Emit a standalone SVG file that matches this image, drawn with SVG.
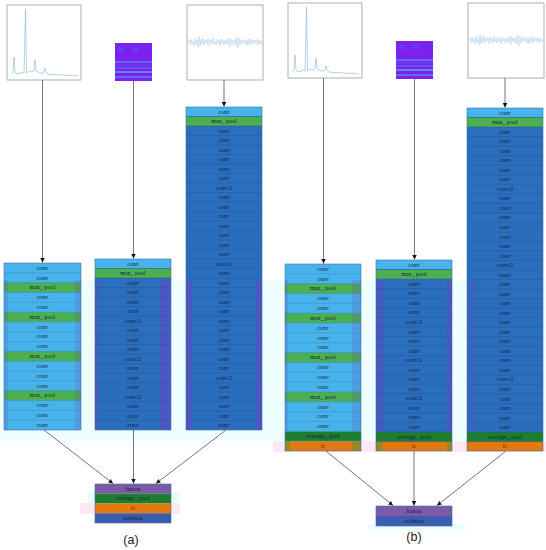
<svg xmlns="http://www.w3.org/2000/svg" xmlns:xlink="http://www.w3.org/1999/xlink" width="546" height="550" viewBox="0 0 546 550">
<style>
.lb{fill:#48b3ea}
.db{fill:#2b6ebe}
.mp{fill:#4caf50}
.ap{fill:#1e7e30}
.fc{fill:#e37a10}
.sm{fill:#3d5bab}
.fu{fill:#7c5aa6}
.sep{stroke:#22599a;stroke-width:0.5;fill:none}
.sepl{stroke:#348fc8;stroke-width:0.5;fill:none}
.bd{fill:none;stroke:#3f74ad;stroke-width:0.6}
.t{font-family:"Liberation Serif","Times New Roman",serif;font-size:6px;fill:#14233c;text-anchor:middle}
.tr{fill:#7a1800}
.st{fill:#7040c0;opacity:.45}
.st2{fill:#7040c0;opacity:.2}
.ol{fill:#3a9a40;opacity:.45}
.img{fill:#fff;stroke:#9a9a9a;stroke-width:0.8}
.sig{fill:none;stroke:#82b4d8;stroke-width:0.6}
.wav{fill:none;stroke:#a8c9e4;stroke-width:0.5}
.cn{fill:none;stroke:#505050;stroke-width:0.8;marker-end:url(#ah)}
.lab{font-family:"Liberation Sans",Arial,sans-serif;font-size:12.5px;fill:#222;text-anchor:middle}
</style>
<defs>
<marker id="ah" viewBox="0 0 8 8" refX="8" refY="4" markerWidth="4.5" markerHeight="4.5" markerUnits="userSpaceOnUse" orient="auto">
<path d="M0,0 L8,4 L0,8 z" fill="#111"/>
</marker>
</defs>

<!-- faint background bands -->
<rect x="0" y="280" width="546" height="161" fill="#effefe"/>
<rect x="273" y="441" width="273" height="11" fill="#fde9f3"/>
<rect x="88" y="492" width="92" height="11" fill="#eafcfc"/>
<rect x="80" y="503" width="100" height="11" fill="#fde9f3"/>
<rect x="368" y="524" width="97" height="6" fill="#eafcfc"/>

<!-- ===== Panel (a) input images ===== -->
<g id="a-img-spectrum">
<rect class="img" x="7" y="5" width="74" height="75"/>
<path class="sig" d="M12,74 L13,72 14,57 15,72 17,74 20,73 22,72 24,73 25.5,9 26.5,73 28,72 30,71 32,72 34,70 35,60 36,71 38,72 40,73 42,73 44,72 45,68 46,72 48,74 52,74.5 60,74.8 70,75.5 78,76"/>
</g>
<g id="a-img-spectrogram">
<rect x="115" y="43" width="37" height="38" fill="#7b22ee"/>
<ellipse cx="121" cy="49" rx="3" ry="2.5" fill="#5e55f3" opacity=".6"/>
<ellipse cx="135" cy="49" rx="3" ry="2.5" fill="#5e55f3" opacity=".6"/>
<path d="M115,62H152" stroke="#3ec8f2" stroke-width="0.9"/>
<path d="M115,65H152" stroke="#5a6af0" stroke-width="0.6"/>
<path d="M115,68H152" stroke="#34a8f6" stroke-width="0.7"/>
<path d="M115,72H152" stroke="#52e2ee" stroke-width="1.1"/>
<path d="M115,77H152" stroke="#3cb6f6" stroke-width="1"/>
</g>
<g id="a-img-wave">
<rect class="img" x="187" y="5" width="76" height="75"/>
<path class="wav" d="M188,42 L189,40 190,45 191,39 192,44 193,41 194,46 195,38 196,45 197,40 198,47 199,36 200,46 201,39 202,44 203,38 204,45 205,40 206,43 207,39 208,46 209,39 210,44 211,40 212,45 213,38 214,44 215,41 216,45 217,39 218,44 219,40 220,46 221,39 222,43 223,40 224,45 225,40 226,44 227,39 228,45 229,38 230,47 231,39 232,44 233,40 234,45 235,39 236,46 237,37 238,48 239,38 240,45 241,40 242,44 243,39 244,43 245,40 246,45 247,40 248,46 249,39 250,44 251,39 252,45 253,40 254,43 255,40 256,44 257,39 258,45 259,40 260,44 261,41 262,44"/>
</g>

<!-- ===== Panel (b) input images ===== -->
<g id="b-img-spectrum">
<rect class="img" x="288" y="3" width="74" height="75"/>
<path class="sig" transform="translate(281,-2)" d="M12,74 L13,72 14,57 15,72 17,74 20,73 22,72 24,73 25.5,9 26.5,73 28,72 30,71 32,72 34,70 35,60 36,71 38,72 40,73 42,73 44,72 45,68 46,72 48,74 52,74.5 60,74.8 70,75.5 78,76"/>
</g>
<g id="b-img-spectrogram" transform="translate(281,-2)">
<rect x="115" y="43" width="37" height="38" fill="#7b22ee"/>
<ellipse cx="121" cy="49" rx="3" ry="2.5" fill="#5e55f3" opacity=".6"/>
<ellipse cx="135" cy="49" rx="3" ry="2.5" fill="#5e55f3" opacity=".6"/>
<path d="M115,62H152" stroke="#3ec8f2" stroke-width="0.9"/>
<path d="M115,65H152" stroke="#5a6af0" stroke-width="0.6"/>
<path d="M115,68H152" stroke="#34a8f6" stroke-width="0.7"/>
<path d="M115,72H152" stroke="#52e2ee" stroke-width="1.1"/>
<path d="M115,77H152" stroke="#3cb6f6" stroke-width="1"/>
</g>
<g id="b-img-wave">
<rect class="img" x="468" y="3" width="76" height="75"/>
<path class="wav" transform="translate(281,-2)" d="M188,42 L189,40 190,45 191,39 192,44 193,41 194,46 195,38 196,45 197,40 198,47 199,36 200,46 201,39 202,44 203,38 204,45 205,40 206,43 207,39 208,46 209,39 210,44 211,40 212,45 213,38 214,44 215,41 216,45 217,39 218,44 219,40 220,46 221,39 222,43 223,40 224,45 225,40 226,44 227,39 228,45 229,38 230,47 231,39 232,44 233,40 234,45 235,39 236,46 237,37 238,48 239,38 240,45 241,40 242,44 243,39 244,43 245,40 246,45 247,40 248,46 249,39 250,44 251,39 252,45 253,40 254,43 255,40 256,44 257,39 258,45 259,40 260,44 261,41 262,44"/>
</g>

<!-- ===== Panel (a) stack 1 ===== -->
<g id="a-stack1">
<rect class="lb" x="4" y="263" width="77" height="167"/>
<rect class="mp" x="4" y="282.6" width="77" height="9.8"/>
<rect class="mp" x="4" y="312.1" width="77" height="9.8"/>
<rect class="mp" x="4" y="351.4" width="77" height="9.8"/>
<rect class="mp" x="4" y="390.7" width="77" height="9.8"/>
<rect class="st2" x="4" y="280" width="4" height="150"/>
<rect class="st2" x="75" y="280" width="6" height="150"/>
<path class="sepl" d="M4,272.8H81M4,282.6H81M4,292.5H81M4,302.3H81M4,312.1H81M4,321.9H81M4,331.7H81M4,341.6H81M4,351.4H81M4,361.2H81M4,371H81M4,380.8H81M4,390.7H81M4,400.5H81M4,410.3H81M4,420.1H81"/>
<rect class="bd" x="4" y="263" width="77" height="167"/>
<text class="t" x="42.5" y="269.7">conv</text>
<text class="t" x="42.5" y="279.5">conv</text>
<text class="t" x="42.5" y="289.3">max_ pool</text>
<text class="t" x="42.5" y="299.2">conv</text>
<text class="t" x="42.5" y="309">conv</text>
<text class="t" x="42.5" y="318.8">max_ pool</text>
<text class="t" x="42.5" y="328.6">conv</text>
<text class="t" x="42.5" y="338.4">conv</text>
<text class="t" x="42.5" y="348.3">conv</text>
<text class="t" x="42.5" y="358.1">max_ pool</text>
<text class="t" x="42.5" y="367.9">conv</text>
<text class="t" x="42.5" y="377.7">conv</text>
<text class="t" x="42.5" y="387.5">conv</text>
<text class="t" x="42.5" y="397.4">max_ pool</text>
<text class="t" x="42.5" y="407.2">conv</text>
<text class="t" x="42.5" y="417">conv</text>
<text class="t" x="42.5" y="426.8">conv</text>
</g>

<!-- ===== Panel (a) stack 2 ===== -->
<g id="a-stack2">
<rect class="db" x="95" y="259" width="76" height="171"/>
<rect class="lb" x="95" y="259" width="76" height="9.5"/>
<rect class="mp" x="95" y="268.5" width="76" height="9.5"/>
<rect class="st" x="95" y="280" width="3" height="150"/>
<rect class="st" x="160" y="280" width="11" height="150"/>
<path class="sep" d="M95,268.5H171M95,278H171M95,287.5H171M95,297H171M95,306.5H171M95,316H171M95,325.5H171M95,335H171M95,344.5H171M95,354H171M95,363.5H171M95,373H171M95,382.5H171M95,392H171M95,401.5H171M95,411H171M95,420.5H171"/>
<rect class="bd" x="95" y="259" width="76" height="171"/>
<text class="t" x="133" y="265.6">conv</text>
<text class="t" x="133" y="275.1">max_ pool</text>
<text class="t" x="133" y="284.6">conv</text>
<text class="t" x="133" y="294.1">conv</text>
<text class="t" x="133" y="303.6">conv</text>
<text class="t" x="133" y="313.1">conv</text>
<text class="t" x="133" y="322.6">conv/2</text>
<text class="t" x="133" y="332.1">conv</text>
<text class="t" x="133" y="341.6">conv</text>
<text class="t" x="133" y="351.1">conv</text>
<text class="t" x="133" y="360.6">conv/2</text>
<text class="t" x="133" y="370.1">conv</text>
<text class="t" x="133" y="379.6">conv</text>
<text class="t" x="133" y="389.1">conv</text>
<text class="t" x="133" y="398.6">conv/2</text>
<text class="t" x="133" y="408.1">conv</text>
<text class="t" x="133" y="417.6">conv</text>
<text class="t" x="133" y="427.1">conv</text>
</g>

<!-- ===== Panel (a) stack 3 ===== -->
<g id="a-stack3">
<rect class="db" x="186" y="107" width="76" height="323"/>
<rect class="lb" x="186" y="107" width="76" height="9.5"/>
<rect class="mp" x="186" y="116.5" width="76" height="9.5"/>
<rect class="st" x="186" y="280" width="6" height="150"/>
<rect class="st" x="256" y="280" width="6" height="150"/>
<path class="sep" d="M186,116.5H262M186,126H262M186,135.5H262M186,145H262M186,154.5H262M186,164H262M186,173.5H262M186,183H262M186,192.5H262M186,202H262M186,211.5H262M186,221H262M186,230.5H262M186,240H262M186,249.5H262M186,259H262M186,268.5H262M186,278H262M186,287.5H262M186,297H262M186,306.5H262M186,316H262M186,325.5H262M186,335H262M186,344.5H262M186,354H262M186,363.5H262M186,373H262M186,382.5H262M186,392H262M186,401.5H262M186,411H262M186,420.5H262"/>
<rect class="bd" x="186" y="107" width="76" height="323"/>
<text class="t" x="224" y="113.6">conv</text>
<text class="t" x="224" y="123.1">max_ pool</text>
<text class="t" x="224" y="132.6">conv</text>
<text class="t" x="224" y="142.1">conv</text>
<text class="t" x="224" y="151.6">conv</text>
<text class="t" x="224" y="161.1">conv</text>
<text class="t" x="224" y="170.6">conv</text>
<text class="t" x="224" y="180.1">conv</text>
<text class="t" x="224" y="189.6">conv/2</text>
<text class="t" x="224" y="199.1">conv</text>
<text class="t" x="224" y="208.6">conv</text>
<text class="t" x="224" y="218.1">conv</text>
<text class="t" x="224" y="227.6">conv</text>
<text class="t" x="224" y="237.1">conv</text>
<text class="t" x="224" y="246.6">conv</text>
<text class="t" x="224" y="256.1">conv</text>
<text class="t" x="224" y="265.6">conv/2</text>
<text class="t" x="224" y="275.1">conv</text>
<text class="t" x="224" y="284.6">conv</text>
<text class="t" x="224" y="294.1">conv</text>
<text class="t" x="224" y="303.6">conv</text>
<text class="t" x="224" y="313.1">conv</text>
<text class="t" x="224" y="322.6">conv</text>
<text class="t" x="224" y="332.1">conv</text>
<text class="t" x="224" y="341.6">conv</text>
<text class="t" x="224" y="351.1">conv</text>
<text class="t" x="224" y="360.6">conv</text>
<text class="t" x="224" y="370.1">conv</text>
<text class="t" x="224" y="379.6">conv/2</text>
<text class="t" x="224" y="389.1">conv</text>
<text class="t" x="224" y="398.6">conv</text>
<text class="t" x="224" y="408.1">conv</text>
<text class="t" x="224" y="417.6">conv</text>
<text class="t" x="224" y="427.1">conv</text>
</g>

<!-- ===== Panel (a) head ===== -->
<g id="a-head">
<rect class="fu" x="95" y="484" width="76" height="9.75"/>
<rect class="ap" x="95" y="493.75" width="76" height="9.75"/>
<rect class="fc" x="95" y="503.5" width="76" height="9.75"/>
<rect class="sm" x="95" y="513.25" width="76" height="9.75"/>
<rect class="bd" x="95" y="484" width="76" height="39"/>
<text class="t" x="133" y="490.7">fusion</text>
<text class="t" x="133" y="500.4">average_ pool</text>
<text class="t tr" x="133" y="510.2">fc</text>
<text class="t" x="133" y="519.9">softmax</text>
</g>

<!-- ===== Panel (b) stack 1 ===== -->
<g id="b-stack1">
<rect class="lb" x="285" y="264" width="76" height="167.3"/>
<rect class="mp" x="285" y="283.7" width="76" height="9.8"/>
<rect class="mp" x="285" y="313.2" width="76" height="9.8"/>
<rect class="mp" x="285" y="352.6" width="76" height="9.8"/>
<rect class="mp" x="285" y="391.9" width="76" height="9.9"/>
<rect class="ap" x="285" y="431.3" width="76" height="9.8"/>
<rect class="fc" x="285" y="441.1" width="76" height="9.9"/>
<rect class="st2" x="285" y="280" width="3" height="151.3"/>
<rect class="st2" x="352" y="280" width="9" height="151.3"/>
<rect class="ol" x="285" y="441.1" width="5" height="9.9"/>
<rect class="ol" x="352" y="441.1" width="9" height="9.9"/>
<path class="sepl" d="M285,273.8H361M285,283.7H361M285,293.5H361M285,303.4H361M285,313.2H361M285,323H361M285,332.9H361M285,342.7H361M285,352.6H361M285,362.4H361M285,372.2H361M285,382.1H361M285,391.9H361M285,401.8H361M285,411.6H361M285,421.4H361M285,431.3H361M285,441.1H361"/>
<rect class="bd" x="285" y="264" width="76" height="187"/>
<text class="t" x="323" y="270.7">conv</text>
<text class="t" x="323" y="280.5">conv</text>
<text class="t" x="323" y="290.4">max_ pool</text>
<text class="t" x="323" y="300.2">conv</text>
<text class="t" x="323" y="310.1">conv</text>
<text class="t" x="323" y="319.9">max_ pool</text>
<text class="t" x="323" y="329.7">conv</text>
<text class="t" x="323" y="339.6">conv</text>
<text class="t" x="323" y="349.4">conv</text>
<text class="t" x="323" y="359.3">max_ pool</text>
<text class="t" x="323" y="369.1">conv</text>
<text class="t" x="323" y="378.9">conv</text>
<text class="t" x="323" y="388.8">conv</text>
<text class="t" x="323" y="398.6">max_ pool</text>
<text class="t" x="323" y="408.5">conv</text>
<text class="t" x="323" y="418.3">conv</text>
<text class="t" x="323" y="428.1">conv</text>
<text class="t" x="323" y="438">average_ pool</text>
<text class="t tr" x="323" y="447.8">fc</text>
</g>

<!-- ===== Panel (b) stack 2 ===== -->
<g id="b-stack2">
<rect class="db" x="376" y="260" width="76" height="191"/>
<rect class="lb" x="376" y="260" width="76" height="9.55"/>
<rect class="mp" x="376" y="269.55" width="76" height="9.55"/>
<rect class="ap" x="376" y="431.9" width="76" height="9.55"/>
<rect class="fc" x="376" y="441.45" width="76" height="9.55"/>
<rect class="st" x="376" y="280" width="7" height="151.9"/>
<rect class="st" x="447" y="280" width="5" height="151.9"/>
<rect class="ol" x="376" y="441.45" width="7" height="9.55"/>
<rect class="ol" x="447" y="441.45" width="5" height="9.55"/>
<path class="sep" d="M376,269.55H452M376,279.1H452M376,288.65H452M376,298.2H452M376,307.75H452M376,317.3H452M376,326.85H452M376,336.4H452M376,345.95H452M376,355.5H452M376,365.05H452M376,374.6H452M376,384.15H452M376,393.7H452M376,403.25H452M376,412.8H452M376,422.35H452M376,431.9H452M376,441.45H452"/>
<rect class="bd" x="376" y="260" width="76" height="191"/>
<text class="t" x="414" y="266.6">conv</text>
<text class="t" x="414" y="276.2">max_ pool</text>
<text class="t" x="414" y="285.7">conv</text>
<text class="t" x="414" y="295.3">conv</text>
<text class="t" x="414" y="304.8">conv</text>
<text class="t" x="414" y="314.4">conv</text>
<text class="t" x="414" y="323.9">conv/2</text>
<text class="t" x="414" y="333.5">conv</text>
<text class="t" x="414" y="343">conv</text>
<text class="t" x="414" y="352.6">conv</text>
<text class="t" x="414" y="362.1">conv/2</text>
<text class="t" x="414" y="371.7">conv</text>
<text class="t" x="414" y="381.2">conv</text>
<text class="t" x="414" y="390.8">conv</text>
<text class="t" x="414" y="400.3">conv/2</text>
<text class="t" x="414" y="409.9">conv</text>
<text class="t" x="414" y="419.4">conv</text>
<text class="t" x="414" y="429">conv</text>
<text class="t" x="414" y="438.5">average_ pool</text>
<text class="t tr" x="414" y="448.1">fc</text>
</g>

<!-- ===== Panel (b) stack 3 ===== -->
<g id="b-stack3">
<rect class="db" x="467" y="108" width="76" height="343"/>
<rect class="lb" x="467" y="108" width="76" height="9.53"/>
<rect class="mp" x="467" y="117.53" width="76" height="9.53"/>
<rect class="ap" x="467" y="432.02" width="76" height="9.53"/>
<rect class="fc" x="467" y="441.55" width="76" height="9.53"/>
<rect class="st2" x="467" y="280" width="8" height="152"/>
<path class="sep" d="M467,117.53H543M467,127.06H543M467,136.59H543M467,146.12H543M467,155.65H543M467,165.18H543M467,174.71H543M467,184.24H543M467,193.77H543M467,203.3H543M467,212.83H543M467,222.36H543M467,231.89H543M467,241.42H543M467,250.95H543M467,260.48H543M467,270.01H543M467,279.54H543M467,289.07H543M467,298.6H543M467,308.13H543M467,317.66H543M467,327.19H543M467,336.72H543M467,346.25H543M467,355.78H543M467,365.31H543M467,374.84H543M467,384.37H543M467,393.9H543M467,403.43H543M467,412.96H543M467,422.49H543M467,432.02H543M467,441.55H543"/>
<rect class="bd" x="467" y="108" width="76" height="343"/>
<text class="t" x="505" y="114.6">conv</text>
<text class="t" x="505" y="124.1">max_ pool</text>
<text class="t" x="505" y="133.7">conv</text>
<text class="t" x="505" y="143.2">conv</text>
<text class="t" x="505" y="152.7">conv</text>
<text class="t" x="505" y="162.3">conv</text>
<text class="t" x="505" y="171.8">conv</text>
<text class="t" x="505" y="181.3">conv</text>
<text class="t" x="505" y="190.8">conv/2</text>
<text class="t" x="505" y="200.4">conv</text>
<text class="t" x="505" y="209.9">conv</text>
<text class="t" x="505" y="219.4">conv</text>
<text class="t" x="505" y="229">conv</text>
<text class="t" x="505" y="238.5">conv</text>
<text class="t" x="505" y="248">conv</text>
<text class="t" x="505" y="257.6">conv</text>
<text class="t" x="505" y="267.1">conv/2</text>
<text class="t" x="505" y="276.6">conv</text>
<text class="t" x="505" y="286.1">conv</text>
<text class="t" x="505" y="295.7">conv</text>
<text class="t" x="505" y="305.2">conv</text>
<text class="t" x="505" y="314.7">conv</text>
<text class="t" x="505" y="324.3">conv</text>
<text class="t" x="505" y="333.8">conv</text>
<text class="t" x="505" y="343.3">conv</text>
<text class="t" x="505" y="352.9">conv</text>
<text class="t" x="505" y="362.4">conv</text>
<text class="t" x="505" y="371.9">conv</text>
<text class="t" x="505" y="381.4">conv/2</text>
<text class="t" x="505" y="391">conv</text>
<text class="t" x="505" y="400.5">conv</text>
<text class="t" x="505" y="410">conv</text>
<text class="t" x="505" y="419.6">conv</text>
<text class="t" x="505" y="429.1">conv</text>
<text class="t" x="505" y="438.6">average_ pool</text>
<text class="t tr" x="505" y="448.2">fc</text>
</g>

<!-- ===== Panel (b) head ===== -->
<g id="b-head">
<rect class="fu" x="376" y="506" width="76" height="10"/>
<rect x="376" y="516" width="76" height="10" fill="#3a5eb0"/>
<rect class="bd" x="376" y="506" width="76" height="20"/>
<text class="t" x="414" y="512.8">fusion</text>
<text class="t" x="414" y="522.8">softmax</text>
</g>

<!-- ===== Connectors ===== -->
<g id="connectors">
<path class="cn" d="M42.5,80V262.5"/>
<path class="cn" d="M133.5,81V258.5"/>
<path class="cn" d="M224,80V106.5"/>
<path class="cn" d="M44,430L113,483.5"/>
<path class="cn" d="M133.5,430V483.5"/>
<path class="cn" d="M226,430L156,483.5"/>
<path class="cn" d="M323.5,78V263.5"/>
<path class="cn" d="M414.5,79V259.5"/>
<path class="cn" d="M505,78V107.5"/>
<path class="cn" d="M326,451L393,505.5"/>
<path class="cn" d="M414,451V505.5"/>
<path class="cn" d="M506,451L437,505.5"/>
</g>

<text class="lab" x="131" y="544">(a)</text>
<text class="lab" x="414" y="541">(b)</text>
</svg>
